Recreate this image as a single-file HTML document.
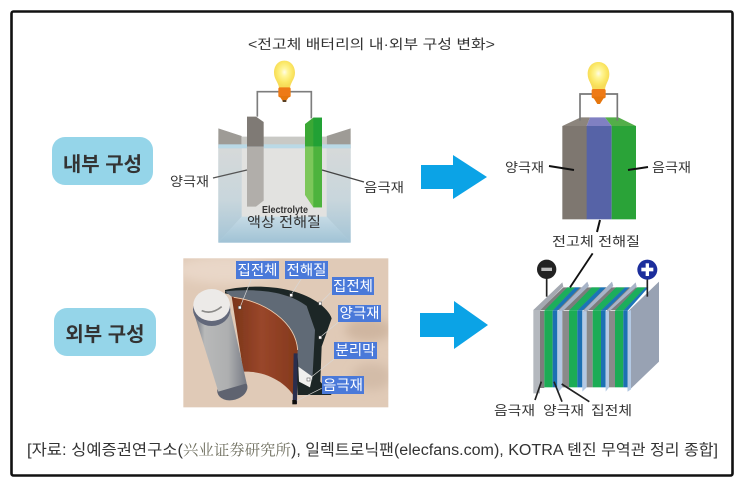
<!DOCTYPE html>
<html lang="ko"><head><meta charset="utf-8"><title>전고체 배터리</title>
<style>
html,body{margin:0;padding:0;background:#fff;width:743px;height:487px;overflow:hidden}
svg{display:block}
text{font-family:"Liberation Sans","Noto Sans CJK KR",sans-serif;fill:#333}
</style></head><body>
<svg xmlns="http://www.w3.org/2000/svg" width="743" height="487" viewBox="0 0 743 487">
<defs>
<filter id="b" x="-5%" y="-5%" width="110%" height="110%"><feGaussianBlur stdDeviation="0.5"/></filter>
<filter id="b3" x="-100%" y="-100%" width="300%" height="300%"><feGaussianBlur stdDeviation="14"/></filter>
<clipPath id="photo"><rect x="25" y="25" width="615" height="447"/></clipPath>
<radialGradient id="bulb" cy=".42"><stop offset="0" stop-color="#fffbe8"/><stop offset=".3" stop-color="#fff69a"/><stop offset=".75" stop-color="#fbe765"/><stop offset="1" stop-color="#f7dc58"/></radialGradient>
<linearGradient id="beakS" x1="0" x2="0" y1="0" y2="1"><stop offset="0" stop-color="#d6d9d9"/><stop offset=".55" stop-color="#c8d6dc"/><stop offset="1" stop-color="#a3c4d6"/></linearGradient>
<linearGradient id="beakB" x1="0" x2="0" y1="0" y2="1"><stop offset="0" stop-color="#c6dbe5"/><stop offset="1" stop-color="#a0c2d5"/></linearGradient>
<linearGradient id="cyl" x1="0" x2="1" y1="0" y2="0"><stop offset="0" stop-color="#6a6f7c"/><stop offset=".2" stop-color="#b8b9b9"/><stop offset=".65" stop-color="#aeafb0"/><stop offset="1" stop-color="#767a84"/></linearGradient>
<linearGradient id="brown" x1="0" x2="1" y1="0" y2="0"><stop offset="0" stop-color="#7a3519"/><stop offset=".45" stop-color="#99462a"/><stop offset="1" stop-color="#84391c"/></linearGradient>
</defs>

<rect x="11.5" y="11.5" width="721" height="464" rx="2" fill="#fff" stroke="#111" stroke-width="2.6"/>

<text x="248" y="49" font-size="13.5" textLength="247" lengthAdjust="spacingAndGlyphs" fill="#222">&lt;전고체 배터리의 내·외부 구성 변화&gt;</text>

<!-- pills -->
<rect x="52" y="137" width="101" height="48" rx="13" fill="#95d5e9"/>
<text x="102.500" y="171" font-size="20" font-weight="700" text-anchor="middle" fill="#17242b">내부 구성</text>
<rect x="54" y="308" width="102" height="48" rx="13" fill="#95d5e9"/>
<text x="105" y="341" font-size="20" font-weight="700" text-anchor="middle" fill="#17242b">외부 구성</text>

<!-- arrows -->
<polygon points="421,165 453,165 453,155 487,177 453,199 453,189 421,189" fill="#0ba3e6"/>
<polygon points="420,313 454,313 454,301 488,325 454,349 454,337 420,337" fill="#0ba3e6"/>

<!-- top-left cell -->
<g transform="translate(150,50) scale(.33333)">
<g filter="url(#b)">
<polygon points="205,235 275,258 275,295 205,295" fill="#9e9b96"/>
<polygon points="602,235 530,258 530,295 602,295" fill="#9e9b96"/>
<polygon points="275,260 530,260 530,290 275,290" fill="#c9c9c5"/>
<rect x="205" y="290" width="397" height="288" fill="#c2d7e2"/>
<rect x="205" y="283" width="397" height="12" fill="#bad9e6"/>
<polygon points="205,295 275,295 275,500 205,578" fill="url(#beakS)"/>
<polygon points="602,295 530,295 530,500 602,578" fill="url(#beakS)"/>
<polygon points="275,500 530,500 602,578 205,578" fill="url(#beakB)"/>
<rect x="275" y="295" width="255" height="205" fill="#e2e2e0"/>
<polygon points="291,200 318,200 341,216 341,290 291,290" fill="#7f7a74"/>
<polygon points="291,290 341,290 341,452 318,470 291,470" fill="#b1aeaa"/>
<polygon points="465,222 490,203 516,203 516,290 465,290" fill="#3aa836"/>
<polygon points="490,203 516,203 516,290 490,290" fill="#23a136"/>
<polygon points="465,290 516,290 516,472 490,472 465,435" fill="#7bc75a"/>
<polygon points="490,290 516,290 516,472 490,472" fill="#4db33e"/>
<path d="M322,200V125H484V205" fill="none" stroke="#7d7d7d" stroke-width="5"/>
<path d="M403,32 C382,32 372,50 372,68 C372,88 385,96 387,114 H420 C422,96 435,88 435,68 C435,50 424,32 403,32Z" fill="url(#bulb)"/>
<rect x="385" y="112" width="37" height="30" rx="5" fill="#ee7a12"/>
<polygon points="388,138 419,138 406,156 400,156" fill="#e57610"/>
<rect x="398" y="150" width="11" height="6" fill="#5a4020"/>
</g>
</g>
<text x="189.500" y="186" font-size="13" text-anchor="middle" textLength="39" lengthAdjust="spacingAndGlyphs">양극재</text>
<path d="M213,178 L247,170" stroke="#555" stroke-width="1.4"/>
<path d="M322,170 L364,182" stroke="#444" stroke-width="1.4"/>
<text x="384" y="192" font-size="13" text-anchor="middle" textLength="40" lengthAdjust="spacingAndGlyphs">음극재</text>
<text x="262" y="213" font-size="10" font-weight="700" fill="#555" textLength="46" lengthAdjust="spacingAndGlyphs">Electrolyte</text>
<text x="247" y="227" font-size="14" fill="#444" textLength="74" lengthAdjust="spacingAndGlyphs">액상 전해질</text>

<!-- top-right cell -->
<g transform="translate(490,50) scale(.33333)">
<g filter="url(#b)">
<polygon points="217,228 272,202 300,202 290,228" fill="#8c857d"/>
<polygon points="300,202 345,202 365,228 290,228" fill="#8080c2"/>
<polygon points="345,202 385,202 438,228 365,228" fill="#53ae4a"/>
<rect x="217" y="228" width="74" height="280" fill="#7e776f"/>
<rect x="290" y="228" width="75" height="280" fill="#5763a7"/>
<rect x="365" y="228" width="73" height="280" fill="#29a338"/>
<path d="M270,212V132H382V212" fill="none" stroke="#777" stroke-width="5"/>
<path d="M325,36 C305,36 293,52 293,72 C293,92 305,100 307,118 H345 C347,100 358,92 358,72 C358,52 345,36 325,36Z" fill="url(#bulb)"/>
<rect x="305" y="117" width="42" height="28" rx="5" fill="#ee7a12"/>
<polygon points="308,140 344,140 330,162 322,162" fill="#e57610"/>
</g>
</g>
<text x="524.500" y="172" font-size="13" text-anchor="middle" textLength="39" lengthAdjust="spacingAndGlyphs">양극재</text>
<path d="M549,166 L574,170" stroke="#111" stroke-width="2"/>
<text x="671.500" y="172" font-size="13" text-anchor="middle" textLength="39" lengthAdjust="spacingAndGlyphs">음극재</text>
<path d="M648,167 L628,170" stroke="#111" stroke-width="2"/>
<path d="M600,220 L597,232" stroke="#111" stroke-width="2"/>
<text x="596" y="246" font-size="13" text-anchor="middle" textLength="88" lengthAdjust="spacingAndGlyphs">전고체 전해질</text>

<!-- bottom-left photo -->
<g transform="translate(175,250) scale(.33333)">
<rect x="25" y="25" width="615" height="447" fill="#e0cab7"/>
<g clip-path="url(#photo)">
<g filter="url(#b3)">
<ellipse cx="580" cy="240" rx="70" ry="35" fill="#cfb6a0"/>
<ellipse cx="590" cy="380" rx="60" ry="40" fill="#d3bca8"/>
<ellipse cx="150" cy="60" rx="150" ry="40" fill="#e9d7c8"/>
</g>
</g>
<g filter="url(#b)">
<path d="M150,120 C230,102 350,105 425,155 C450,172 465,190 470,205 L440,290 L436,395 L470,435 L368,435 L360,300 C350,200 260,150 150,130Z" fill="#1f2825"/>
<path d="M150,124 C240,115 335,122 395,168 L420,240 L412,390 L370,350 C370,240 280,150 170,140Z" fill="#616a76"/>
<path d="M370,350 L412,380 L405,412 L372,395Z" fill="#f0f0ee"/>
<path d="M170,140 C270,150 360,220 368,300 L358,440 C330,395 270,362 205,365Z" fill="url(#brown)"/>
<path d="M176,142 C270,155 362,215 368,300" fill="none" stroke="#f3cfb0" stroke-width="2.500"/>
<path d="M356,310 L353,462 L366,462 L368,310Z" fill="#2c2d4e"/>
<ellipse cx="172" cy="417" rx="46" ry="33" fill="#5f6470" transform="rotate(-15 172 417)"/>
<polygon points="57,190 163,168 215,400 130,425" fill="url(#cyl)"/>
<ellipse cx="110" cy="178" rx="56" ry="50" fill="#62677a"/>
<ellipse cx="110" cy="165" rx="55" ry="48" fill="#eceae8"/>
<path d="M80,182 Q110,195 140,170" fill="none" stroke="#8b8a88" stroke-width="5"/>
<path d="M230,85 L195,172 M380,85 L348,135 M470,125 L435,160 M492,215 L435,262 M480,325 L400,388 M440,415 L358,456" stroke="#d8d8d8" stroke-width="2" fill="none"/>
<g fill="#fff" stroke="#444" stroke-width="1.500">
<rect x="190" y="168" width="9" height="9"/><rect x="344" y="131" width="9" height="9"/><rect x="431" y="156" width="9" height="9"/><rect x="431" y="258" width="9" height="9"/><rect x="396" y="384" width="9" height="9"/>
</g>
<rect x="352" y="450" width="13" height="13" fill="#111"/>
</g>
</g>
<g fill="#4a79d9">
<rect x="236" y="261" width="43" height="18"/>
<rect x="285" y="261" width="43" height="18"/>
<rect x="332" y="277" width="42" height="18"/>
<rect x="338" y="305" width="43" height="17"/>
<rect x="334" y="342" width="43" height="17"/>
<rect x="322" y="376" width="42" height="18"/>
</g>
<g font-size="14" text-anchor="middle">
<text x="257.500" y="275" style="fill:#fff" textLength="40" lengthAdjust="spacingAndGlyphs">집전체</text>
<text x="306.500" y="275" style="fill:#fff" textLength="40" lengthAdjust="spacingAndGlyphs">전해질</text>
<text x="353" y="291" style="fill:#fff" textLength="40" lengthAdjust="spacingAndGlyphs">집전체</text>
<text x="359.500" y="318" style="fill:#fff" textLength="40" lengthAdjust="spacingAndGlyphs">양극재</text>
<text x="355.500" y="355" style="fill:#fff" textLength="40" lengthAdjust="spacingAndGlyphs">분리막</text>
<text x="343" y="390" style="fill:#fff" textLength="40" lengthAdjust="spacingAndGlyphs">음극재</text>
</g>

<!-- bottom-right stack -->
<g transform="translate(480,250) scale(.33333)">
<g filter="url(#b)">
<!-- top depth -->
<polygon points="180,180 250,112 500,112 443,180" fill="#7c7c7c"/>
<g>
<polygon points="193,182 262,112 285,112 218,182" fill="#1fae5c"/>
<polygon points="218,182 285,112 300,112 232,182" fill="#1f75b8"/>
<polygon points="267,182 335,112 362,112 292,182" fill="#1fae5c"/>
<polygon points="292,182 362,112 378,112 307,182" fill="#1f75b8"/>
<polygon points="338,182 408,112 435,112 363,182" fill="#1fae5c"/>
<polygon points="363,182 435,112 448,112 377,182" fill="#1f75b8"/>
<polygon points="405,182 472,112 497,112 430,182" fill="#1fae5c"/>
<polygon points="430,182 497,112 505,112 443,182" fill="#1f75b8"/>
</g>
<!-- separators rising -->
<polygon points="160,180 247,97 250,110 180,182" fill="#a4a9b1"/>
<polygon points="232,185 322,95 327,108 247,185" fill="#a8b4c8"/>
<polygon points="307,185 396,95 400,108 320,185" fill="#a8b4c8"/>
<polygon points="377,185 467,97 470,110 387,185" fill="#a8b4c8"/>
<!-- fronts -->
<polygon points="160,180 180,180 180,430 160,430" fill="#b4b8be"/>
<rect x="180" y="182" width="13" height="232" fill="#7d7d7d"/>
<rect x="193" y="182" width="25" height="230" fill="#1cac54"/>
<rect x="218" y="182" width="14" height="230" fill="#1f70b3"/>
<polygon points="232,182 247,182 247,412 232,430" fill="#b3c9e4"/>
<rect x="247" y="182" width="20" height="230" fill="#8a8a8a"/>
<rect x="267" y="182" width="25" height="230" fill="#1cac54"/>
<rect x="292" y="182" width="15" height="230" fill="#1f70b3"/>
<polygon points="307,185 320,185 320,412 307,425" fill="#b3c9e4"/>
<rect x="320" y="182" width="18" height="230" fill="#8a8a8a"/>
<rect x="338" y="182" width="25" height="230" fill="#1cac54"/>
<rect x="363" y="182" width="14" height="230" fill="#1f70b3"/>
<polygon points="377,185 387,185 387,412 377,425" fill="#b3c9e4"/>
<rect x="387" y="182" width="18" height="230" fill="#8a8a8a"/>
<rect x="405" y="182" width="25" height="230" fill="#1cac54"/>
<rect x="430" y="182" width="13" height="230" fill="#1f70b3"/>
<polygon points="443,185 537,95 537,335 443,425" fill="#98a2b3"/>
<polygon points="443,185 453,180 453,418 443,425" fill="#b3c9e4"/>
<path d="M200,140V80" stroke="#222" stroke-width="5"/>
<path d="M502,140V85" stroke="#222" stroke-width="5"/>
<circle cx="200" cy="58" r="29" fill="#222"/>
<circle cx="502" cy="59" r="30" fill="#1f2f9c"/>
<rect x="184" y="53" width="32" height="10" fill="#bbb"/>
<rect x="484" y="53" width="36" height="11" fill="#fff"/>
<rect x="497" y="40" width="10" height="38" fill="#fff"/>
</g>
<path d="M338,10 L270,112" stroke="#111" stroke-width="5.500"/>
<path d="M184,395 L165,450" stroke="#222" stroke-width="5"/>
<path d="M222,395 L246,455" stroke="#222" stroke-width="5"/>
<path d="M245,402 L328,455" stroke="#222" stroke-width="5"/>
</g>
<text x="494" y="415" font-size="13" textLength="41" lengthAdjust="spacingAndGlyphs">음극재</text>
<text x="543" y="415" font-size="13" textLength="41" lengthAdjust="spacingAndGlyphs">양극재</text>
<text x="591" y="415" font-size="13" textLength="41" lengthAdjust="spacingAndGlyphs">집전체</text>

<!-- footer -->
<text x="27" y="455" font-size="15.500" textLength="156" lengthAdjust="spacingAndGlyphs" fill="#222">[자료: 싱예증권연구소(</text>
<text x="183" y="455" font-size="15" textLength="108" lengthAdjust="spacingAndGlyphs" style="font-family:'Noto Serif CJK SC',serif;fill:#6f6f5f">兴业证券研究所</text>
<text x="291" y="455" font-size="15.500" textLength="427" lengthAdjust="spacingAndGlyphs" fill="#222">), 일렉트로닉팬(elecfans.com), KOTRA 톈진 무역관 정리 종합]</text>
</svg>
</body></html>
